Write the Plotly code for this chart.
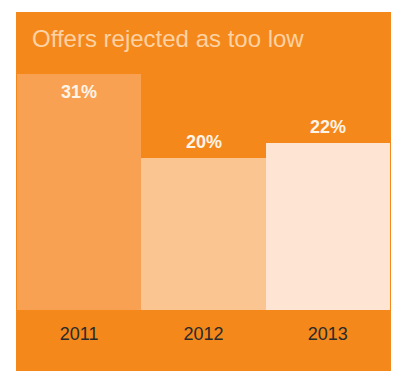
import plotly.graph_objects as go

# Share of offers rejected as too low, by year
years = ["2011", "2012", "2013"]
rejected_pct = [31, 20, 22]
bar_colors = ["#F9A152", "#FBC592", "#FEE4D2"]

panel_orange = "#F5881A"
title_text = "Offers rejected as too low"

W, H = 395, 371
plot_left, plot_right = 17, 390
plot_top, plot_bottom = 74, 310
plot_w = plot_right - plot_left
plot_h = plot_bottom - plot_top

fig = go.Figure()
fig.add_trace(go.Bar(
    x=years,
    y=rejected_pct,
    marker=dict(color=bar_colors, line=dict(width=0)),
    hoverinfo="skip",
))

ymax = max(rejected_pct)

# Value labels: above each bar, or inside when the bar fills the plot height
annotations = []
for i, v in enumerate(rejected_pct):
    inside = v >= ymax
    annotations.append(dict(
        x=i, y=v, xref="x", yref="y",
        text=f"<b>{v}%</b>",
        showarrow=False,
        yanchor="middle",
        yshift=-18 if inside else 16,
        font=dict(family="Liberation Sans, Arial, sans-serif", size=18, color="#FFF4E8"),
    ))

# Panel title
annotations.append(dict(
    x=(30 - plot_left) / plot_w, y=(plot_bottom - 39) / plot_h,
    xref="paper", yref="paper",
    xanchor="left", yanchor="middle",
    text=title_text, showarrow=False,
    font=dict(family="Liberation Sans, Arial, sans-serif", size=24, color="#FDD2A4"),
))

fig.update_layout(
    width=W, height=H,
    margin=dict(l=plot_left, r=W - plot_right, t=plot_top, b=H - plot_bottom, pad=0),
    paper_bgcolor="white",
    plot_bgcolor=panel_orange,
    bargap=0,
    showlegend=False,
    annotations=annotations,
    shapes=[dict(
        type="rect", xref="paper", yref="paper", layer="below",
        x0=(16 - plot_left) / plot_w, x1=(391 - plot_left) / plot_w,
        y0=(plot_bottom - 372) / plot_h, y1=(plot_bottom - 12) / plot_h,
        fillcolor=panel_orange, line=dict(width=0),
    )],
    xaxis=dict(
        type="category",
        range=[-0.5, len(years) - 0.5],
        showgrid=False, zeroline=False, showline=False, ticks="",
        tickfont=dict(family="Liberation Sans, Arial, sans-serif", size=18, color="#2A2A2A"),
        ticklabelstandoff=11,
    ),
    yaxis=dict(
        range=[0, ymax], showgrid=False, zeroline=False, showline=False,
        showticklabels=False, ticks="",
    ),
)

fig.write_html("out.html")
